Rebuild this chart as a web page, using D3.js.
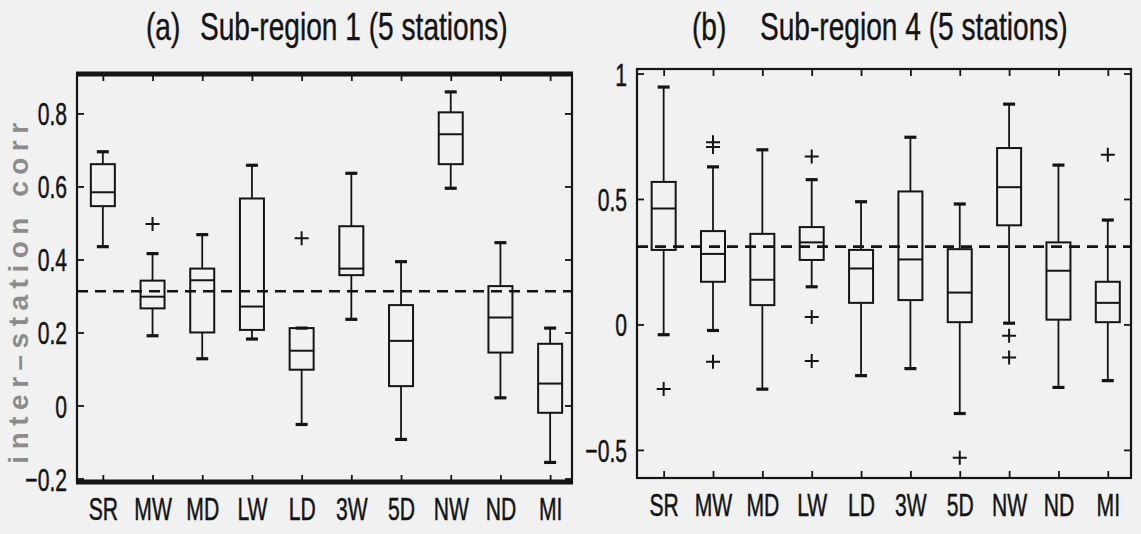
<!DOCTYPE html>
<html>
<head>
<meta charset="utf-8">
<script src="https://cdn.jsdelivr.net/npm/d3@7"></script>
<style>
  body { margin: 0; background: #f1f1f1; }
  svg { display: block; }
</style>
</head>
<body>
<svg id="chart" width="1141" height="534"></svg>
<script>
// Weather-type categories along the x axis
const categories = ["SR", "MW", "MD", "LW", "LD", "3W", "5D", "NW", "ND", "MI"];

// Sub-region 1: box-plot summary of inter-station correlation
const r1Low    = [0.435, 0.191, 0.128, 0.182, -0.052, 0.236, -0.093, 0.595, 0.021, -0.156];
const r1Q1     = [0.546, 0.266, 0.200, 0.207,  0.098, 0.357,  0.053, 0.661, 0.145, -0.020];
const r1Median = [0.584, 0.298, 0.343, 0.271,  0.150, 0.375,  0.177, 0.743, 0.241,  0.060];
const r1Q3     = [0.661, 0.342, 0.375, 0.567,  0.212, 0.491,  0.275, 0.803, 0.327,  0.169];
const r1High   = [0.695, 0.416, 0.468, 0.658,  0.212, 0.636,  0.394, 0.859, 0.446,  0.212];
const r1Outliers = [[], [0.497], [], [], [0.458], [], [], [], [], []];
const r1Reference = 0.313;
const r1Ticks = [-0.2, 0, 0.2, 0.4, 0.6, 0.8];

// Sub-region 4
const r4Low    = [-0.041, -0.024, -0.258, 0.150, -0.204, -0.176, -0.355, 0.005, -0.251, -0.224];
const r4Q1     = [ 0.297,  0.170,  0.077, 0.257,  0.086,  0.097,  0.009, 0.395,  0.019,  0.009];
const r4Median = [ 0.462,  0.281,  0.178, 0.327,  0.223,  0.259,  0.127, 0.547,  0.214,  0.086];
const r4Q3     = [ 0.568,  0.372,  0.361, 0.388,  0.297,  0.530,  0.300, 0.703,  0.327,  0.170];
const r4High   = [ 0.946,  0.628,  0.696, 0.577,  0.489,  0.746,  0.480, 0.878,  0.635,  0.416];
const r4Outliers = [[-0.257], [0.726, 0.707, -0.149], [], [0.669, 0.030, -0.146], [], [], [-0.531], [-0.045, -0.132], [], [0.676]];
const r4Reference = 0.31;
const r4Ticks = [-0.5, 0, 0.5, 1];

const svg = d3.select("#chart");
const ink = "#141414";
const fontFace = "'Liberation Sans', Arial, sans-serif";

// horizontally condensed text helper
function condense(sel, k) {
  sel.each(function () {
    const t = d3.select(this);
    const x = +(t.attr("x") || 0);
    t.attr("x", x / k).attr("transform", `scale(${k},1)`);
  });
}

const panels = [
  {
    label: "(a)", title: "Sub-region 1 (5 stations)", labelX: 146, titleX: 200,
    left: 77, right: 572, top: 74, bottom: 482,
    xDomain: [0.48, 10.44], yDomain: [-0.2096, 0.908],
    low: r1Low, q1: r1Q1, median: r1Median, q3: r1Q3, high: r1High,
    outliers: r1Outliers, reference: r1Reference, ticks: r1Ticks,
    fmt: d => (d < 0 ? "\u2212" : "") + (d === 0 ? "0" : Math.abs(d).toFixed(1)),
    heavyFrame: true
  },
  {
    label: "(b)", title: "Sub-region 4 (5 stations)", labelX: 692, titleX: 760,
    left: 637, right: 1131, top: 69, bottom: 478,
    xDomain: [0.46, 10.47], yDomain: [-0.612, 1.018],
    low: r4Low, q1: r4Q1, median: r4Median, q3: r4Q3, high: r4High,
    outliers: r4Outliers, reference: r4Reference, ticks: r4Ticks,
    fmt: d => (d < 0 ? "\u2212" : "") + (d === 0 ? "0" : d === 1 ? "1" : Math.abs(d).toFixed(1)),
    heavyFrame: false
  }
];

panels.forEach(p => {
  const x = d3.scaleLinear().domain(p.xDomain).range([p.left, p.right]);
  const y = d3.scaleLinear().domain(p.yDomain).range([p.bottom, p.top]);
  const g = svg.append("g");

  // dashed reference correlation
  g.append("line")
    .attr("x1", p.left).attr("x2", p.right)
    .attr("y1", y(p.reference)).attr("y2", y(p.reference))
    .attr("stroke", ink).attr("stroke-width", 2.6)
    .attr("stroke-dasharray", "11 7");

  const boxW = 12, capW = 6, plus = 7;
  const boxes = g.append("g").attr("fill", "none").attr("stroke", ink);
  categories.forEach((c, i) => {
    const cx = x(i + 1);
    const b = boxes.append("g");
    // whiskers
    b.append("line").attr("x1", cx).attr("x2", cx)
      .attr("y1", y(p.q3[i])).attr("y2", y(p.high[i])).attr("stroke-width", 1.8);
    b.append("line").attr("x1", cx).attr("x2", cx)
      .attr("y1", y(p.q1[i])).attr("y2", y(p.low[i])).attr("stroke-width", 1.8);
    // whisker caps
    [p.high[i], p.low[i]].forEach(v => {
      b.append("line").attr("x1", cx - capW).attr("x2", cx + capW)
        .attr("y1", y(v)).attr("y2", y(v)).attr("stroke-width", 3.2);
    });
    // interquartile box and median
    b.append("rect")
      .attr("x", cx - boxW).attr("width", 2 * boxW)
      .attr("y", y(p.q3[i])).attr("height", y(p.q1[i]) - y(p.q3[i]))
      .attr("stroke-width", 2);
    b.append("line").attr("x1", cx - boxW).attr("x2", cx + boxW)
      .attr("y1", y(p.median[i])).attr("y2", y(p.median[i])).attr("stroke-width", 2);
    // outliers
    p.outliers[i].forEach(v => {
      b.append("path")
        .attr("d", `M${cx - plus},${y(v)}H${cx + plus}M${cx},${y(v) - plus}V${y(v) + plus}`)
        .attr("stroke-width", 2);
    });
  });

  // axes with inward ticks on all four sides
  const cats = d3.range(1, categories.length + 1);
  const bottomAx = g.append("g").attr("transform", `translate(0,${p.bottom})`)
    .call(d3.axisBottom(x).tickValues(cats).tickFormat(d => categories[d - 1])
      .tickSizeInner(-7).tickSizeOuter(0).tickPadding(15));
  const topAx = g.append("g").attr("transform", `translate(0,${p.top})`)
    .call(d3.axisTop(x).tickValues(cats).tickFormat("").tickSizeInner(-7).tickSizeOuter(0));
  const leftAx = g.append("g").attr("transform", `translate(${p.left},0)`)
    .call(d3.axisLeft(y).tickValues(p.ticks).tickFormat(p.fmt)
      .tickSizeInner(-7).tickSizeOuter(0).tickPadding(10));
  const rightAx = g.append("g").attr("transform", `translate(${p.right},0)`)
    .call(d3.axisRight(y).tickValues(p.ticks).tickFormat("").tickSizeInner(-7).tickSizeOuter(0));
  [bottomAx, topAx, leftAx, rightAx].forEach(a => {
    a.select(".domain").remove();
    a.selectAll(".tick line").attr("stroke", ink).attr("stroke-width", 1.8);
    a.selectAll("text").attr("fill", ink).attr("font-family", fontFace).attr("font-size", 32)
      .attr("stroke", ink).attr("stroke-width", 0.5);
  });
  condense(bottomAx.selectAll("text"), 0.66);
  condense(leftAx.selectAll("text"), 0.66);
  leftAx.selectAll("text").attr("dy", "0.36em");

  // frame
  g.append("rect")
    .attr("x", p.left).attr("y", p.top)
    .attr("width", p.right - p.left).attr("height", p.bottom - p.top)
    .attr("fill", "none").attr("stroke", ink).attr("stroke-width", 2.2);
  if (p.heavyFrame) {
    [p.top, p.bottom].forEach(yy => {
      g.append("line").attr("x1", p.left - 1).attr("x2", p.right + 1)
        .attr("y1", yy).attr("y2", yy).attr("stroke", ink).attr("stroke-width", 5);
    });
  }

  // panel titles
  const title = svg.append("g").attr("fill", ink).attr("font-family", fontFace).attr("font-size", 38)
    .attr("stroke", ink).attr("stroke-width", 0.4);
  title.append("text").attr("transform", `translate(${p.labelX},40) scale(0.74,1)`).text(p.label);
  title.append("text").attr("transform", `translate(${p.titleX},40) scale(0.74,1)`).text(p.title);
});

// shared y-axis label
svg.append("text")
  .attr("transform", "translate(28,290) rotate(-90)")
  .attr("text-anchor", "middle")
  .attr("font-family", fontFace).attr("font-weight", "bold")
  .attr("font-size", 28).attr("letter-spacing", 6.5)
  .attr("fill", "#8c8c8c")
  .text("inter\u2013station corr");
</script>
</body>
</html>
